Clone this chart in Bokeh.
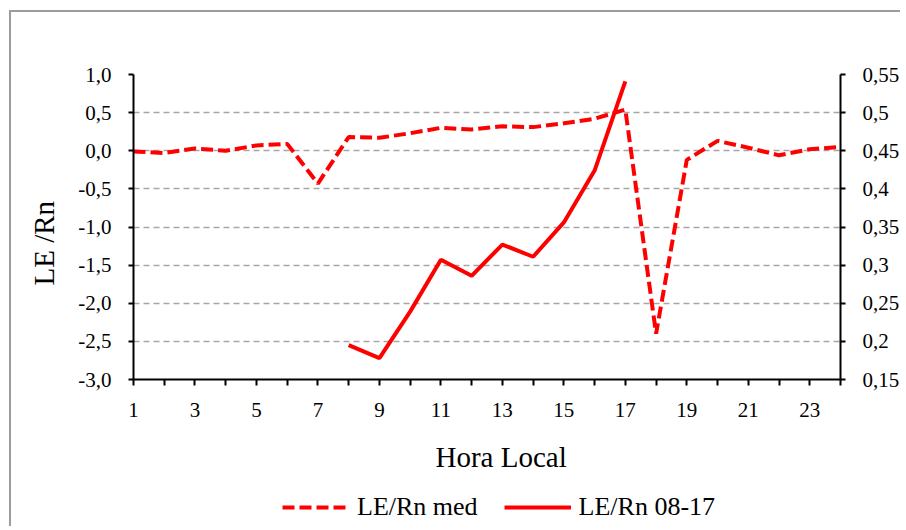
from bokeh.plotting import figure
from bokeh.layouts import column
from bokeh.models import Range1d, LinearAxis, FixedTicker, Legend, LegendItem, Title
from bokeh.embed import file_html
from bokeh.resources import INLINE

hours = list(range(1, 25))
le_rn_med = [-0.01, -0.03, 0.03, 0.00, 0.07, 0.09, -0.43, 0.18, 0.17, 0.23, 0.30, 0.28,
             0.32, 0.31, 0.36, 0.42, 0.54, -2.40, -0.12, 0.13, 0.04, -0.06, 0.02, 0.05]
hours_day = list(range(8, 18))
le_rn_0817 = [0.195, 0.178, 0.239, 0.307, 0.286, 0.327, 0.311, 0.356, 0.424, 0.541]

left_ticks = [-3.0, -2.5, -2.0, -1.5, -1.0, -0.5, 0.0, 0.5, 1.0]
left_labels = ["-3,0", "-2,5", "-2,0", "-1,5", "-1,0", "-0,5", "0,0", "0,5", "1,0"]
right_ticks = [0.15, 0.20, 0.25, 0.30, 0.35, 0.40, 0.45, 0.50, 0.55]
right_labels = ["0,15", "0,2", "0,25", "0,3", "0,35", "0,4", "0,45", "0,5", "0,55"]

x_title = "Hora Local"
y_title = "LE /Rn"
series_names = ["LE/Rn med", "LE/Rn 08-17"]

FONT = "Liberation Serif"
RED = "#ff0000"
DASH = "12 5"

p = figure(frame_width=705, frame_height=303, output_backend="svg", toolbar_location=None,
           x_range=Range1d(1, 24), y_range=Range1d(-3, 1),
           min_border_left=0, min_border_top=62, min_border_right=60, min_border_bottom=0)
p.extra_y_ranges = {"right": Range1d(0.15, 0.55)}
p.outline_line_color = None
p.background_fill_color = "white"
p.border_fill_color = "white"
p.styles = {"margin-left": "9px", "margin-top": "10px",
            "border-left": "2px solid #9c9c9c", "border-top": "2px solid #9c9c9c"}

# grid
p.xgrid.grid_line_color = None
p.ygrid.grid_line_color = "#a6a6a6"
p.ygrid.grid_line_width = 1.6
p.ygrid.grid_line_dash = "6 4"

# x axis
xa = p.xaxis[0]
xa.ticker = FixedTicker(ticks=hours)
xa.major_label_overrides = {h: (str(h) if h % 2 == 1 else "") for h in hours}

# left axis
ya = p.yaxis[0]
ya.ticker = FixedTicker(ticks=left_ticks)
ya.major_label_overrides = dict(zip(left_ticks, left_labels))

# right axis
ra = LinearAxis(y_range_name="right")
ra.ticker = FixedTicker(ticks=right_ticks)
ra.major_label_overrides = dict(zip(right_ticks, right_labels))
p.add_layout(ra, "right")

for ax in (xa, ya, ra):
    ax.axis_line_color = "black"
    ax.axis_line_width = 2
    ax.major_tick_line_color = "black"
    ax.major_tick_line_width = 2
    ax.major_tick_out = 5
    ax.major_tick_in = 0
    ax.minor_tick_line_color = None
    ax.major_label_text_font = FONT
    ax.major_label_text_font_size = "21px"
    ax.major_label_text_color = "black"
    ax.major_label_standoff = 17
xa.major_tick_out = 6
xa.major_label_standoff = 17

# axis titles as side-panel titles (offset like the reference)
xt = Title(text=x_title, align="left", offset=302, vertical_align="middle",
           text_baseline="middle", standoff=41, text_font=FONT, text_font_size="29px",
           text_font_style="normal", text_color="black")
p.add_layout(xt, "below")
yt = Title(text=y_title, align="left", offset=94, vertical_align="middle",
           text_baseline="middle", standoff=30, text_font=FONT, text_font_size="29px",
           text_font_style="normal", text_color="black")
p.add_layout(yt, "left")

r_med = p.line(hours, le_rn_med, line_color=RED, line_width=4, line_dash=DASH)
r_day = p.line(hours_day, le_rn_0817, line_color=RED, line_width=4, y_range_name="right")

# legend strip below the chart (separate small figure so it is never clipped);
# its ranges lie outside the data, so only the legend samples are visible
p2 = figure(width=888, height=34, output_backend="svg", toolbar_location=None,
            x_range=Range1d(100, 101), y_range=Range1d(100, 101),
            x_axis_location=None, y_axis_location=None, min_border=0)
p2.outline_line_color = None
p2.background_fill_color = "white"
p2.border_fill_color = "white"
p2.xgrid.visible = False
p2.ygrid.visible = False
p2.styles = {"margin-left": "9px", "border-left": "2px solid #9c9c9c"}
k_med = p2.line(hours, le_rn_med, line_color=RED, line_width=4, line_dash=DASH)
k_day = p2.line(hours_day, le_rn_0817, line_color=RED, line_width=4)

legend = Legend(items=[LegendItem(label=series_names[0], renderers=[k_med]),
                       LegendItem(label=series_names[1], renderers=[k_day])],
                orientation="horizontal", location=(149, 4))
legend.label_text_font = FONT
legend.label_text_font_size = "26px"
legend.label_text_color = "black"
legend.glyph_width = 67
legend.glyph_height = 30
legend.label_height = 30
legend.label_standoff = 8
legend.spacing = 26
legend.padding = 0
legend.margin = 0
legend.border_line_color = None
legend.background_fill_alpha = 0
p2.add_layout(legend, "center")

layout = column(p, p2)
open("out.html", "w").write(file_html(layout, INLINE))
